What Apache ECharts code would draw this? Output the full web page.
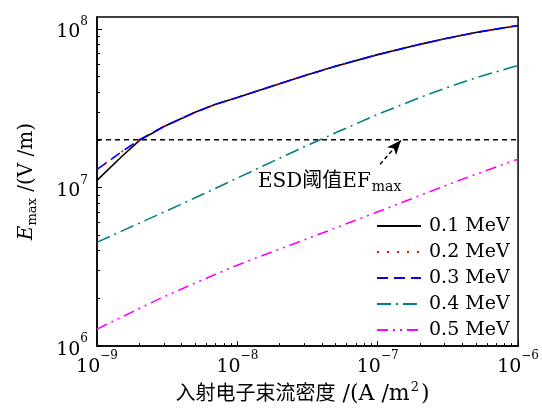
<!DOCTYPE html>
<html><head><meta charset="utf-8">
<script src="https://cdn.jsdelivr.net/npm/echarts@6/dist/echarts.min.js"></script>
<style>html,body{margin:0;padding:0;background:#fff}#c{width:542px;height:410px}</style>
</head><body><div id="c"></div>
<script>
// ---- data ----
const xValues = [1e-9, 1.5e-9, 2e-9, 3e-9, 5e-9, 7e-9, 1e-8, 2e-8, 3e-8, 5e-8, 1e-7, 2e-7, 3e-7, 5e-7, 1e-6];
const e01 = [1.11e7, 1.57e7, 1.977e7, 2.427e7, 2.985e7, 3.35e7, 3.70e7, 4.52e7, 5.07e7, 5.82e7, 6.89e7, 8.0e7, 8.67e7, 9.51e7, 1.052e8];
const e02 = [1.30e7, 1.68e7, 2.0e7, 2.427e7, 2.985e7, 3.35e7, 3.70e7, 4.52e7, 5.07e7, 5.82e7, 6.89e7, 8.0e7, 8.67e7, 9.51e7, 1.052e8];
const e03 = [1.30e7, 1.68e7, 2.0e7, 2.427e7, 2.985e7, 3.35e7, 3.70e7, 4.52e7, 5.07e7, 5.82e7, 6.89e7, 8.0e7, 8.67e7, 9.51e7, 1.052e8];
const e04 = [4.51e6, 5.31e6, 5.96e6, 7.01e6, 8.61e6, 9.89e6, 1.148e7, 1.531e7, 1.807e7, 2.213e7, 2.897e7, 3.69e7, 4.22e7, 4.92e7, 5.9e7];
const e05 = [1.28e6, 1.524e6, 1.726e6, 2.05e6, 2.5e6, 2.84e6, 3.24e6, 4.09e6, 4.68e6, 5.56e6, 7.03e6, 8.91e6, 1.023e7, 1.213e7, 1.51e7];
const seriesNames = ['0.1 MeV', '0.2 MeV', '0.3 MeV', '0.4 MeV', '0.5 MeV'];
const thresholdEF = 2e7;
const thresholdX = [1e-9, 1e-6];
const arrowFrom = [1.04e-7, 1.4e7];
const arrowTo = [1.46e-7, 1.98e7];
const xMajor = [1e-9, 1e-8, 1e-7, 1e-6];
const yMajor = [1e6, 1e7, 1e8];
const xRange = [1e-9, 1e-6];
const yRange = [1e6, 1.19e8];
function minorsOf(lo, hi) {
  const out = [];
  for (let e = Math.floor(Math.log10(lo)); e < Math.ceil(Math.log10(hi)); e++) {
    for (let m = 2; m <= 9; m++) { const v = m * Math.pow(10, e); if (v > lo && v < hi) out.push(v); }
  }
  return out;
}
const xMinor = minorsOf(xRange[0], xRange[1]);
const yMinor = minorsOf(yRange[0], yRange[1]);

const SERIF = '"DejaVu Serif", "Noto Sans CJK SC", serif';
const chart = echarts.init(document.getElementById('c'));
function pow10Label(v) {
  const e = Math.round(Math.log10(v));
  return '{b|10}{s|' + String(e).replace('-', '\u2212') + '}';
}
const tickRich = {
  b: { fontFamily: SERIF, fontSize: 19, color: '#000', lineHeight: 26, verticalAlign: 'bottom' },
  s: { fontFamily: SERIF, fontSize: 12, color: '#000', lineHeight: 14, verticalAlign: 'top' }
};
function pairs(ys) { return xValues.map((x, i) => [x, ys[i]]); }
const lw = 1.6;
const option = {
  animation: false,
  grid: { left: 97, right: 17, top: 17, bottom: 63, show: true, borderColor: '#000', borderWidth: 1.5, containLabel: false },
  legend: {
    data: seriesNames, orient: 'vertical', left: 371, top: 211,
    itemWidth: 44, itemHeight: 14, itemGap: 6,
    itemStyle: { opacity: 0 },
    textStyle: { fontFamily: SERIF, fontSize: 19, color: '#000', lineHeight: 20, padding: [0, 0, 0, 3] }
  },
  xAxis: [{
    type: 'log', min: xRange[0], max: xRange[1], logBase: 10,
    name: '{c|入射电子束流密度}{l| /(A /m}{s|2}{l|)}', nameLocation: 'middle', nameGap: 24,
    nameTextStyle: { fontFamily: SERIF, fontSize: 20, color: '#000', padding: [0, 10, 0, 0],
      rich: {
        c: { fontFamily: SERIF, fontSize: 20, lineHeight: 24, verticalAlign: 'bottom' },
        l: { fontFamily: SERIF, fontSize: 22, lineHeight: 24, verticalAlign: 'bottom' },
        s: { fontFamily: SERIF, fontSize: 13, lineHeight: 14, verticalAlign: 'top', padding: [0, 2, 0, 1] }
      } },
    axisLine: { show: true, lineStyle: { color: '#000', width: 1.5 } },
    axisTick: { show: true, inside: true, length: 5, customValues: xMajor, lineStyle: { color: '#000', width: 1 } },
    axisLabel: { customValues: xMajor, formatter: pow10Label, rich: tickRich, margin: 4, color: '#000' },
    splitLine: { show: false }, minorTick: { show: false }
  }, {
    type: 'log', min: xRange[0], max: xRange[1], logBase: 10, position: 'bottom',
    axisLine: { show: false },
    axisTick: { show: true, inside: true, length: 3, customValues: xMinor, lineStyle: { color: '#000', width: 1 } },
    axisLabel: { show: false }, splitLine: { show: false }
  }],
  yAxis: [{
    type: 'log', min: yRange[0], max: yRange[1], logBase: 10,
    name: '{i|E}{sub|max}{t| /(V /m)}', nameLocation: 'middle', nameGap: 58, nameRotate: 90,
    nameTextStyle: { fontFamily: SERIF, fontSize: 20, color: '#000',
      rich: {
        i: { fontFamily: SERIF, fontSize: 20, fontStyle: 'italic', lineHeight: 24, verticalAlign: 'middle' },
        sub: { fontFamily: SERIF, fontSize: 13, lineHeight: 14, verticalAlign: 'bottom' },
        t: { fontFamily: SERIF, fontSize: 20, lineHeight: 24, verticalAlign: 'middle' }
      } },
    axisLine: { show: true, lineStyle: { color: '#000', width: 1.5 } },
    axisTick: { show: true, inside: true, length: 5, customValues: yMajor, lineStyle: { color: '#000', width: 1 } },
    axisLabel: { customValues: yMajor, formatter: pow10Label, rich: tickRich, margin: 9, color: '#000' },
    splitLine: { show: false }, minorTick: { show: false }
  }, {
    type: 'log', min: yRange[0], max: yRange[1], logBase: 10, position: 'left',
    axisLine: { show: false },
    axisTick: { show: true, inside: true, length: 3, customValues: yMinor, lineStyle: { color: '#000', width: 1 } },
    axisLabel: { show: false }, splitLine: { show: false }
  }],
  series: [
    { name: '__threshold', type: 'line', data: thresholdX.map(x => [x, thresholdEF]), symbol: 'none', silent: true,
      lineStyle: { color: '#000', width: 1.6, type: [5, 4] },
      markLine: { silent: true, symbol: ['none', 'arrow'], symbolSize: [9, 14],
        label: { show: false },
        lineStyle: { color: '#000', width: 1.5, type: [4, 3] },
        data: [[{ coord: arrowFrom }, { coord: arrowTo }]] } },
    { name: seriesNames[0], type: 'line', data: pairs(e01), symbol: 'none', lineStyle: { color: '#000', width: lw, type: 'solid' }, itemStyle: { color: '#000' } },
    { name: seriesNames[1], type: 'line', data: pairs(e02), symbol: 'none', lineStyle: { color: '#ff0000', width: lw, type: [2, 8] }, itemStyle: { color: '#ff0000' } },
    { name: seriesNames[2], type: 'line', data: pairs(e03), symbol: 'none', lineStyle: { color: '#0000ff', width: lw, type: [11, 6] }, itemStyle: { color: '#0000ff' } },
    { name: seriesNames[3], type: 'line', data: pairs(e04), symbol: 'none', lineStyle: { color: '#008080', width: lw, type: [14, 5, 2, 5] }, itemStyle: { color: '#008080' } },
    { name: seriesNames[4], type: 'line', data: pairs(e05), symbol: 'none', lineStyle: { color: '#ff00ff', width: lw, type: [11, 5, 2, 5, 2, 5] }, itemStyle: { color: '#ff00ff' } }
  ],
  graphic: [{
    type: 'text', left: 258, top: 172,
    style: {
      text: '{m|ESD阈值EF}{sub|max}',
      rich: {
        m: { fontFamily: SERIF, fontSize: 20, fill: '#000', lineHeight: 24, verticalAlign: 'middle' },
        sub: { fontFamily: SERIF, fontSize: 14, fill: '#000', lineHeight: 14, verticalAlign: 'bottom', padding: [0, 0, 0, 1] }
      }
    }
  }]
};
chart.setOption(option);
</script></body></html>
